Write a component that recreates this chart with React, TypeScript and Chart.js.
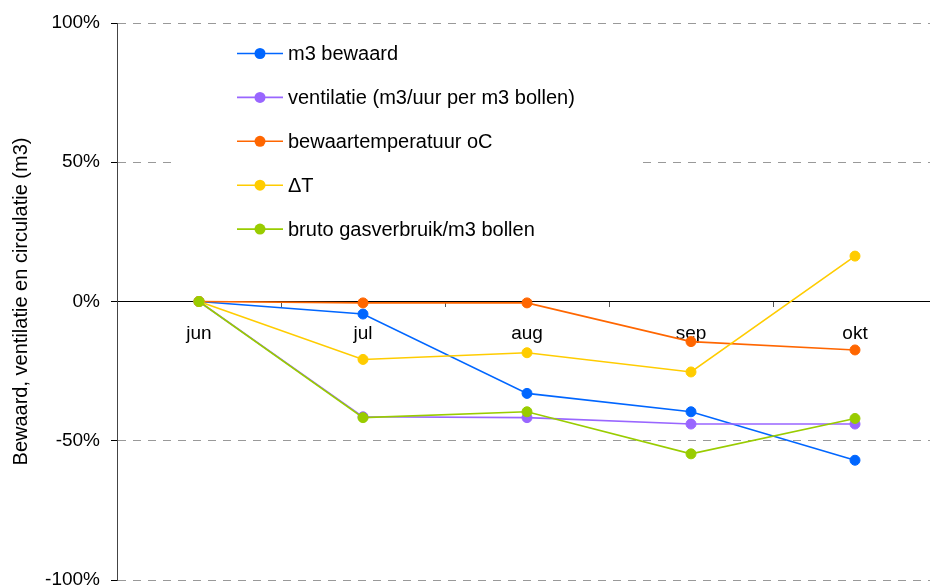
import React, { useEffect, useRef } from "react";
import { Chart, registerables } from "chart.js";

Chart.register(...registerables);

const categories = ["jun", "jul", "aug", "sep", "okt"];
const seriesNames = [
  "m3 bewaard",
  "ventilatie (m3/uur per m3 bollen)",
  "bewaartemperatuur oC",
  "\u0394T",
  "bruto gasverbruik/m3 bollen",
];
const seriesColors = ["#0066ff", "#9966ff", "#ff6600", "#ffcc00", "#99cc00"];
const m3Bewaard = [0, -4.5, -33, -39.6, -57];
const ventilatie = [0, -41.4, -41.7, -44, -44];
const bewaartemperatuur = [0, -0.5, -0.5, -14.4, -17.4];
const deltaT = [0, -20.8, -18.4, -25.3, 16.3];
const brutoGas = [0, -41.7, -39.6, -54.7, -42];
const yMin = -100;
const yMax = 100;
const yStep = 50;
const yTitle = "Bewaard, ventilatie en circulatie (m3)";

const FONT = '"Liberation Sans", Arial, Helvetica, sans-serif';

const legendPlugin = {
  id: "insideLegend",
  afterDraw(chart: any) {
    const ctx = chart.ctx;
    ctx.save();
    ctx.fillStyle = "#ffffff";
    ctx.fillRect(172, 28, 468, 222);
    const datasets = chart.data.datasets;
    const y0 = 53.5;
    const dy = 43.9;
    ctx.font = `20px ${FONT}`;
    ctx.textBaseline = "middle";
    ctx.textAlign = "left";
    datasets.forEach((ds: any, i: number) => {
      const y = y0 + i * dy;
      ctx.strokeStyle = ds.borderColor;
      ctx.lineWidth = 1.6;
      ctx.beginPath();
      ctx.moveTo(237, y);
      ctx.lineTo(283, y);
      ctx.stroke();
      ctx.fillStyle = ds.backgroundColor;
      ctx.beginPath();
      ctx.arc(260, y, 5.5, 0, Math.PI * 2);
      ctx.fill();
      ctx.fillStyle = "#000000";
      ctx.fillText(ds.label, 288, y + 1);
    });
    ctx.restore();
  },
};

export default function App() {
  const canvasRef = useRef<HTMLCanvasElement | null>(null);

  useEffect(() => {
    if (!canvasRef.current) return;
    const values = [m3Bewaard, ventilatie, bewaartemperatuur, deltaT, brutoGas];
    const chart = new Chart(canvasRef.current, {
      type: "line",
      data: {
        labels: categories,
        datasets: values.map((data, i) => ({
          label: seriesNames[i],
          data,
          borderColor: seriesColors[i],
          backgroundColor: seriesColors[i],
          pointBackgroundColor: seriesColors[i],
          pointBorderColor: seriesColors[i],
          pointRadius: 5,
          pointBorderWidth: 1,
          borderWidth: 1.6,
          tension: 0,
          fill: false,
          order: values.length - i,
        })),
      },
      options: {
        animation: false,
        responsive: false,
        devicePixelRatio: 1,
        layout: { padding: { left: 0, right: 8, top: 23, bottom: 7 } },
        plugins: {
          legend: { display: false },
          tooltip: { enabled: false },
          title: { display: false },
        },
        scales: {
          x: {
            type: "category",
            position: { y: 0 } as any,
            offset: true,
            grid: {
              offset: true,
              drawOnChartArea: false,
              drawTicks: true,
              tickLength: 5,
              color: "#555555",
              tickColor: "#555555",
            },
            border: { display: true, color: "#000000", width: 1 },
            ticks: {
              font: { family: FONT, size: 19 },
              color: "#000000",
              padding: 16,
              maxRotation: 0,
              autoSkip: false,
            },
            afterFit(scale: any) {
              scale.paddingLeft = 0;
              scale.paddingRight = 0;
            },
          },
          y: {
            type: "linear",
            min: yMin,
            max: yMax,
            ticks: {
              stepSize: yStep,
              font: { family: FONT, size: 19 },
              color: "#000000",
              padding: 11,
              callback: (v: any) => `${v}%`,
            },
            grid: {
              color: (c: any) => (c.tick && c.tick.value === 0 ? "rgba(0,0,0,0)" : "#999999"),
              tickColor: "#000000",
              tickLength: 6,
              drawTicks: true,
            },
            border: { display: true, color: "#444444", width: 1, dash: [8, 7] },
            title: {
              display: true,
              text: yTitle,
              font: { family: FONT, size: 20 },
              color: "#000000",
              padding: { top: 9, bottom: 0 },
            },
            afterFit(scale: any) {
              scale.width = 117;
              scale.paddingTop = 0;
              scale.paddingBottom = 0;
            },
          },
        },
      },
      plugins: [legendPlugin],
    });
    return () => chart.destroy();
  }, []);

  return (
    <div
      style={{
        position: "fixed",
        left: 0,
        top: 0,
        width: 930,
        height: 587,
        overflow: "hidden",
        background: "#ffffff",
      }}
    >
      <canvas ref={canvasRef} width={945} height={587} style={{ display: "block" }} />
    </div>
  );
}
